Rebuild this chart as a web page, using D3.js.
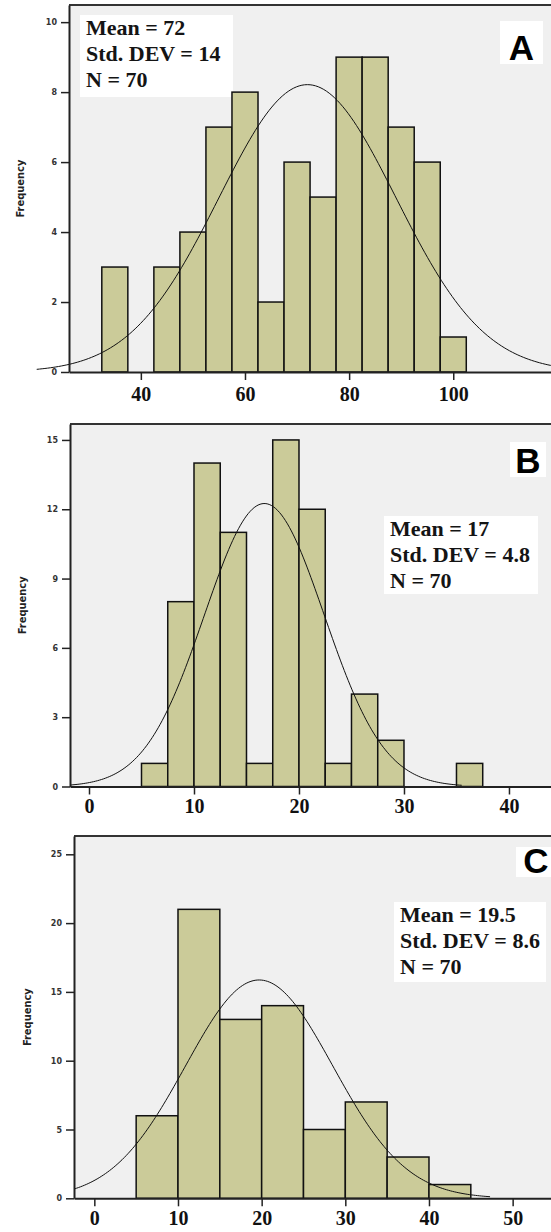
<!DOCTYPE html>
<html>
<head>
<meta charset="utf-8">
<script src="https://cdn.jsdelivr.net/npm/d3@7"></script>
<style>
  body { margin: 0; background: #fff; }
  svg { display: block; }
</style>
</head>
<body>
<svg id="chart" width="551" height="1232"></svg>
<script>
// data

// A
const binsA = [32.5, 37.5, 42.5, 47.5, 52.5, 57.5, 62.5, 67.5, 72.5, 77.5, 82.5, 87.5, 92.5, 97.5];
const countsA = [3, 0, 3, 4, 7, 8, 2, 6, 5, 9, 9, 7, 6, 1];
const xTicksA = [40, 60, 80, 100];
const yTicksA = [0, 2, 4, 6, 8, 10];
const statsA = ["Mean = 72", "Std. DEV = 14", "N = 70"];
const fitA = [72, 17];          // mean, sd of the drawn normal curve
const curveRangeA = [20, 125];

// B
const binsB = [5, 7.5, 10, 12.5, 15, 17.5, 20, 22.5, 25, 27.5, 30, 32.5, 35];
const countsB = [1, 8, 14, 11, 1, 15, 12, 1, 4, 2, 0, 0, 1];
const xTicksB = [0, 10, 20, 30, 40];
const yTicksB = [0, 3, 6, 9, 12, 15];
const statsB = ["Mean = 17", "Std. DEV = 4.8", "N = 70"];
const fitB = [16.7, 5.7];
const curveRangeB = [-1.8, 35.5];

// C
const binsC = [5, 10, 15, 20, 25, 30, 35, 40];
const countsC = [6, 21, 13, 14, 5, 7, 3, 1];
const xTicksC = [0, 10, 20, 30, 40, 50];
const yTicksC = [0, 5, 10, 15, 20, 25];
const statsC = ["Mean = 19.5", "Std. DEV = 8.6", "N = 70"];
const fitC = [19.7, 8.8];
const curveRangeC = [-2.4, 47.3];

const sampleN = 70;

var svg = d3.select("#chart");

// layout for each panel (pixels)
var panels = [
  {bins: binsA, counts: countsA, bw: 5, xTicks: xTicksA, yTicks: yTicksA, stats: statsA, fit: fitA, curve: curveRangeA,
   letter: "A", xDomain: [26.2, 120.5], yMax: 10.49,
   left: 69, right: 560, top: 5, bottom: 372,
   statBox: [80, 15, 153, 82], letterBox: [500, 21, 43, 43], titleX: 20, labelBase: 401},
  {bins: binsB, counts: countsB, bw: 2.5, xTicks: xTicksB, yTicks: yTicksB, stats: statsB, fit: fitB, curve: curveRangeB,
   letter: "B", xDomain: [-1.81, 44.86], yMax: 15.69,
   left: 70, right: 560, top: 424, bottom: 786.5,
   statBox: [384, 516, 154, 78], letterBox: [510, 442, 36, 35], titleX: 22, labelBase: 813},
  {bins: binsC, counts: countsC, bw: 5, xTicks: xTicksC, yTicks: yTicksC, stats: statsC, fit: fitC, curve: curveRangeC,
   letter: "C", xDomain: [-2.43, 55.66], yMax: 26.33,
   left: 74, right: 560, top: 836, bottom: 1198.3,
   statBox: [394, 902, 152, 80], letterBox: [516, 847, 40, 30], titleX: 27, labelBase: 1225}
];

function normalPdf(v, mean, sd){
    let z = (v - mean)/sd;
    return Math.exp(-0.5*z*z)/(sd*Math.sqrt(2*Math.PI));
}

panels.forEach(p => {

    const x = d3.scaleLinear().domain(p.xDomain).range([p.left, p.right]);
    const y = d3.scaleLinear().domain([0, p.yMax]).range([p.bottom, p.top]);

    const g = svg.append("g");

    // plot background
    g.append("rect")
     .attr("x", p.left).attr("y", p.top)
     .attr("width", p.right - p.left).attr("height", p.bottom - p.top)
     .attr("fill", "#f0f0f0");

    // stats box
    g.append("rect")
     .attr("x", p.statBox[0]).attr("y", p.statBox[1])
     .attr("width", p.statBox[2]).attr("height", p.statBox[3])
     .attr("fill", "#fff");

    g.selectAll("text.stat")
     .data(p.stats)
     .enter()
     .append("text")
     .attr("class", "stat")
     .attr("x", p.statBox[0] + 6)
     .attr("y", (d, i) => p.statBox[1] + 20 + i*26)
     .attr("font-family", "Liberation Serif, serif")
     .attr("font-weight", "bold")
     .attr("font-size", 22)
     .attr("fill", "#141414")
     .text(d => d);

    // panel letter
    g.append("rect")
     .attr("x", p.letterBox[0]).attr("y", p.letterBox[1])
     .attr("width", p.letterBox[2]).attr("height", p.letterBox[3])
     .attr("fill", "#fff");

    g.append("text")
     .attr("x", p.letterBox[0] + p.letterBox[2]/2)
     .attr("y", p.letterBox[1] + p.letterBox[3] - 4)
     .attr("text-anchor", "middle")
     .attr("font-family", "Liberation Sans, Arial, sans-serif")
     .attr("font-weight", "bold")
     .attr("font-size", 35)
     .attr("fill", "#000")
     .text(p.letter);

    // bars
    const barData = p.bins.map((b, i) => ({x0: b, x1: b + p.bw, n: p.counts[i]}))
                          .filter(d => d.n > 0);

    g.selectAll("rect.bar")
     .data(barData)
     .enter()
     .append("rect")
     .attr("class", "bar")
     .attr("x", d => x(d.x0))
     .attr("y", d => y(d.n))
     .attr("width", d => x(d.x1) - x(d.x0))
     .attr("height", d => y(0) - y(d.n))
     .attr("fill", "#cbcb99")
     .attr("stroke", "#111")
     .attr("stroke-width", 1.5);

    // fitted normal curve
    const step = (p.curve[1] - p.curve[0])/200;
    const pts = d3.range(p.curve[0], p.curve[1] + step/2, step);
    const line = d3.line()
                   .x(d => x(d))
                   .y(d => y(sampleN*p.bw*normalPdf(d, p.fit[0], p.fit[1])));

    g.append("path")
     .datum(pts)
     .attr("d", line)
     .attr("fill", "none")
     .attr("stroke", "#111")
     .attr("stroke-width", 1);

    // top frame line
    g.append("line")
     .attr("x1", p.left).attr("x2", p.right)
     .attr("y1", p.top).attr("y2", p.top)
     .attr("stroke", "#333")
     .attr("stroke-width", 2);

    // axes
    const yAxis = d3.axisLeft(y).tickValues(p.yTicks).tickSize(8).tickSizeOuter(0).tickPadding(4);
    const gy = g.append("g").attr("transform", `translate(${p.left},0)`).call(yAxis);
    gy.select(".domain").attr("stroke", "#222").attr("stroke-width", 2);
    gy.selectAll(".tick line").attr("stroke", "#222").attr("stroke-width", 1.5);
    gy.selectAll(".tick text")
      .attr("font-family", "DejaVu Sans, sans-serif")
      .attr("font-weight", "bold")
      .attr("font-size", 8)
      .attr("fill", "#333");

    const xAxis = d3.axisBottom(x).tickValues(p.xTicks).tickSize(8).tickSizeOuter(0).tickFormat(d => d);
    const gx = g.append("g").attr("transform", `translate(0,${p.bottom})`).call(xAxis);
    gx.select(".domain").attr("stroke", "#222").attr("stroke-width", 2);
    gx.selectAll(".tick line").attr("stroke", "#222").attr("stroke-width", 1.5);
    gx.selectAll(".tick text")
      .attr("y", p.labelBase - p.bottom)
      .attr("dy", 0)
      .attr("font-family", "Liberation Serif, serif")
      .attr("font-weight", "bold")
      .attr("font-size", 20)
      .attr("fill", "#111");

    // y title
    g.append("text")
     .attr("transform", `translate(${p.titleX + 4},${(p.top + p.bottom)/2}) rotate(-90)`)
     .attr("text-anchor", "middle")
     .attr("font-family", "DejaVu Sans Condensed, DejaVu Sans, sans-serif")
     .attr("font-weight", "bold")
     .attr("font-size", 11)
     .attr("fill", "#222")
     .text("Frequency");
});
</script>
</body>
</html>
